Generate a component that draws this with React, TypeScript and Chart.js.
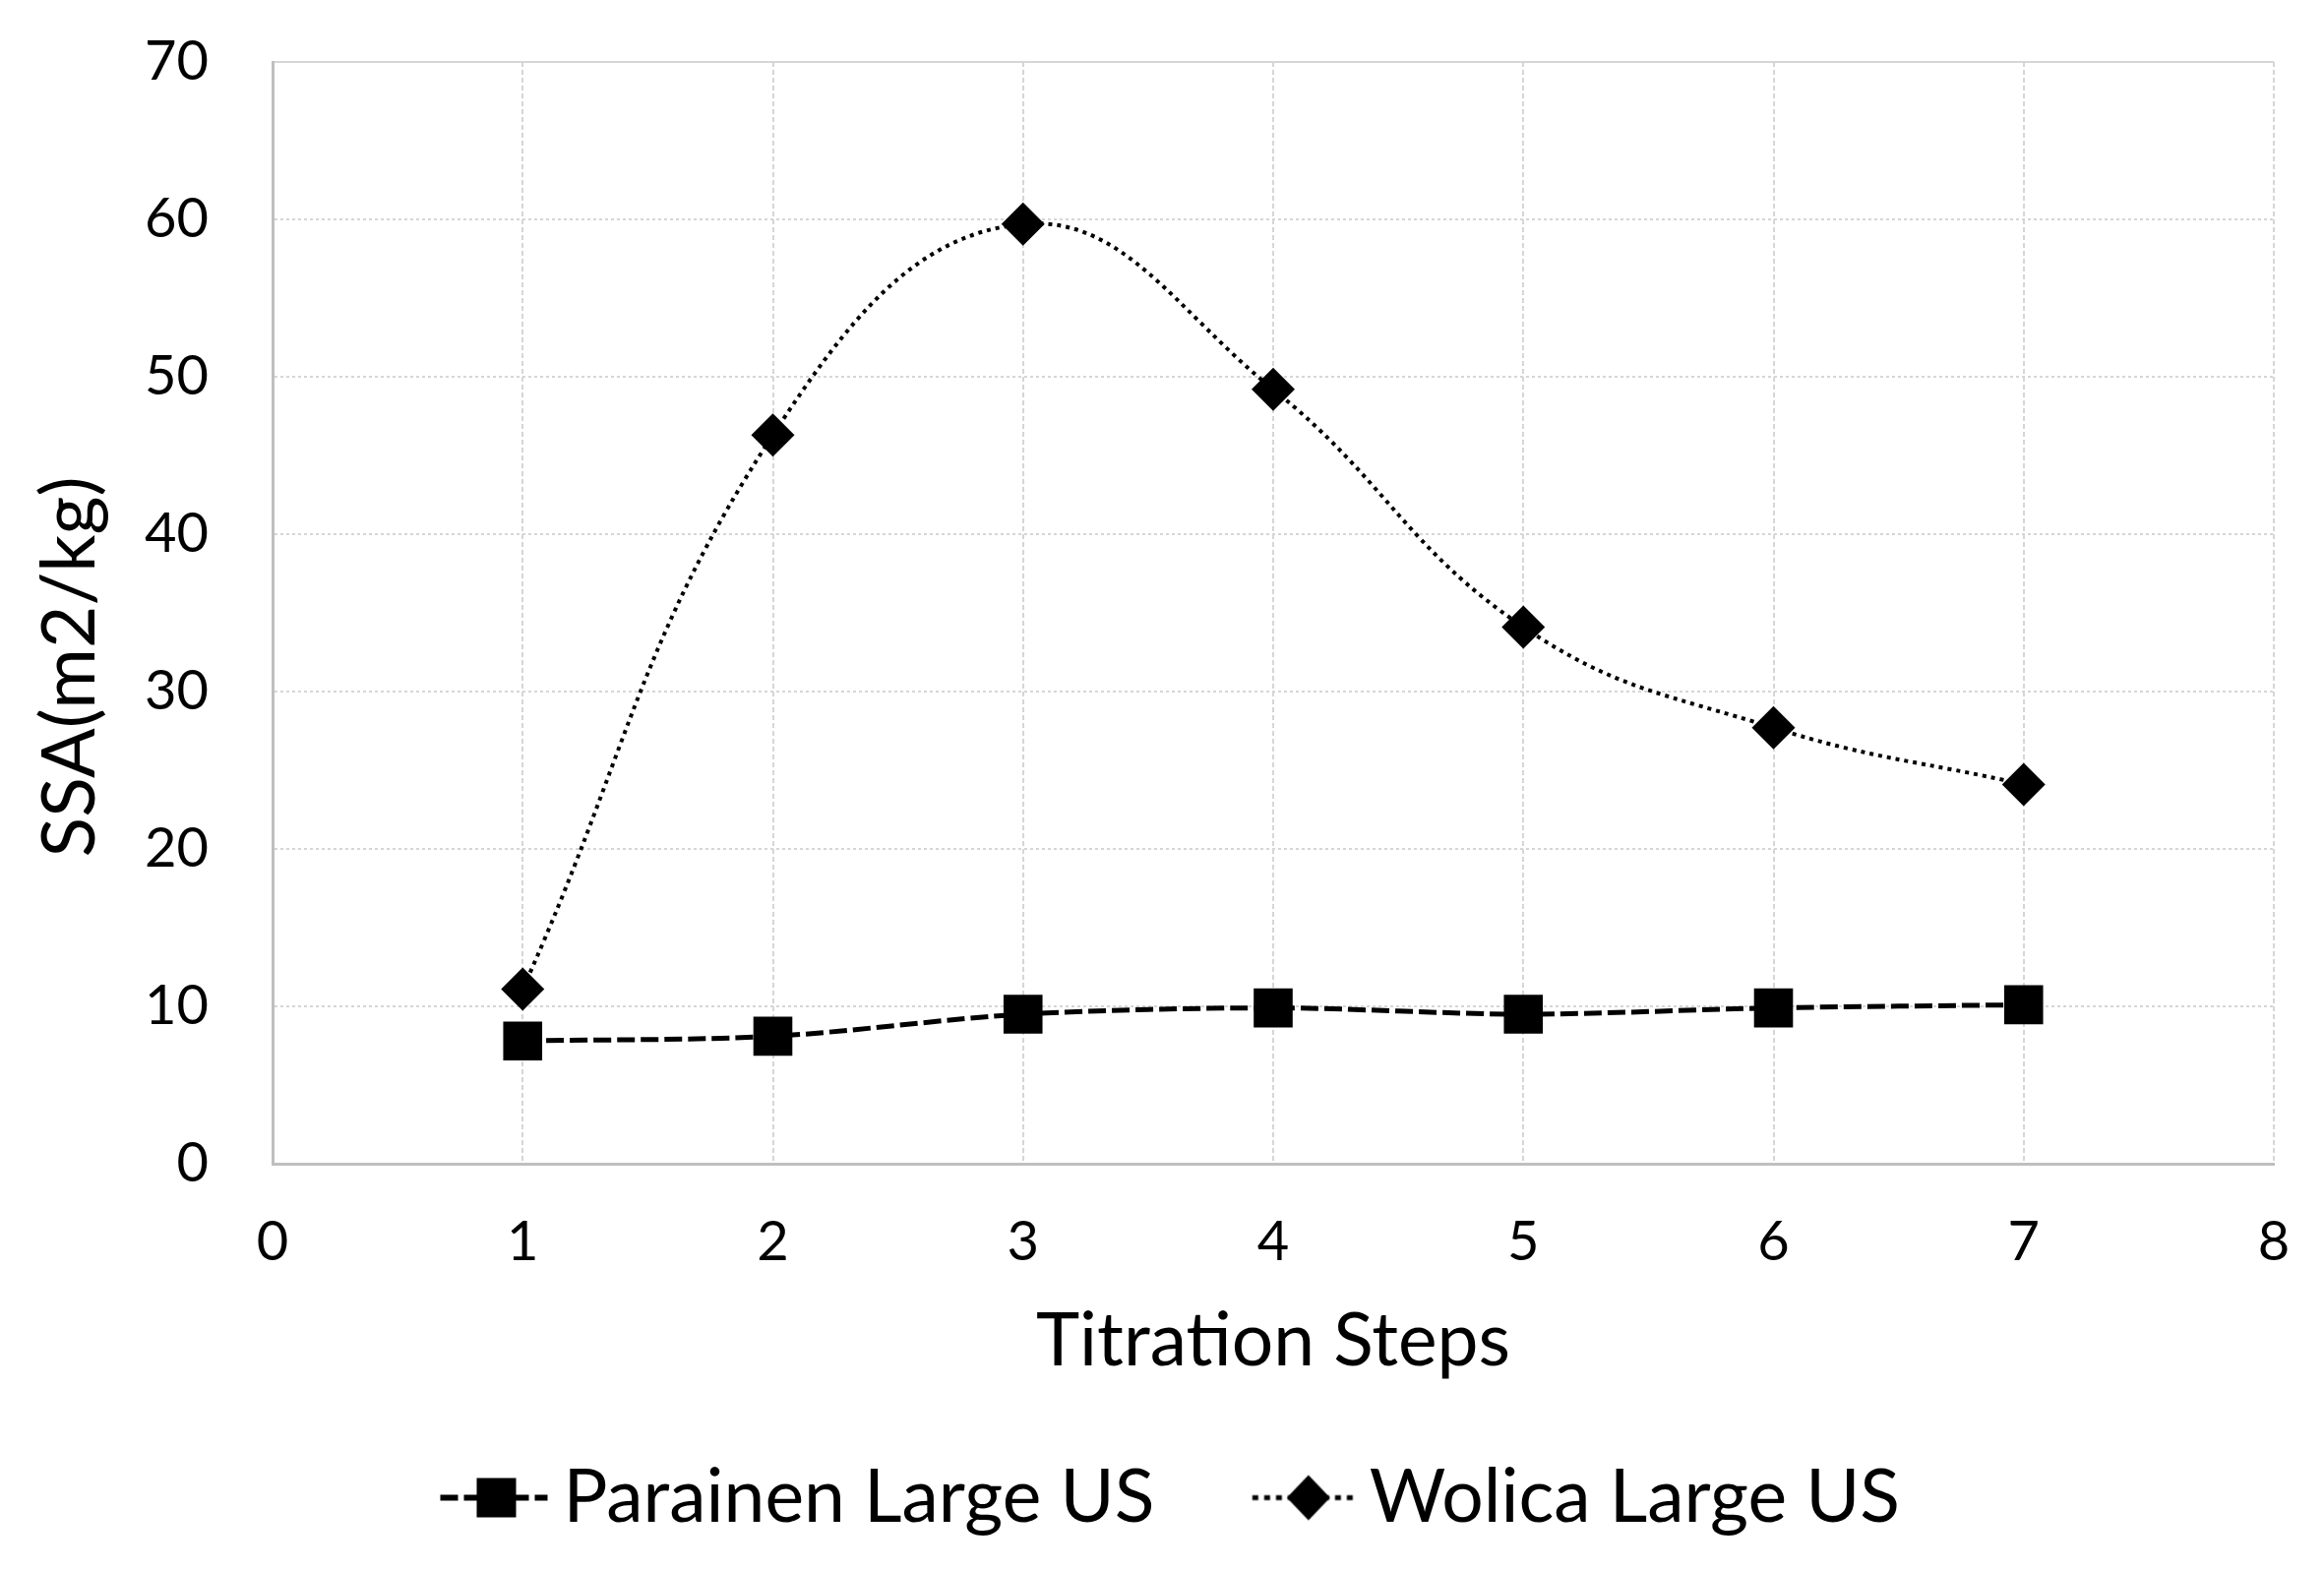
import React, { useEffect, useRef } from "react";
import { Chart, registerables } from "chart.js";

Chart.register(...registerables);

// ---- data ----
const titrationSteps = [1, 2, 3, 4, 5, 6, 7];
const parainenLargeUS = [7.8, 8.1, 9.5, 9.9, 9.5, 9.9, 10.1];
const wolicaLargeUS = [11.1, 46.3, 59.7, 49.2, 34.1, 27.7, 24.1];
const seriesNames = ["Parainen Large US", "Wolica Large US"];
const xAxisTitle = "Titration Steps";
const yAxisTitle = "SSA(m2/kg)";
const xRange = [0, 8];
const yRange = [0, 70];

const FONT = "Lato, 'Liberation Sans', sans-serif";

function makeLegendIcon(kind: "square" | "diamond"): HTMLCanvasElement {
  const c = document.createElement("canvas");
  c.width = 233;
  c.height = 60;
  const ctx = c.getContext("2d")!;
  const cy = 30;
  const end = 223.5;
  const start = kind === "square" ? 114.5 : 120.5;
  ctx.strokeStyle = "#000";
  if (kind === "square") {
    ctx.lineWidth = 6;
    ctx.setLineDash([18, 6]);
  } else {
    ctx.lineWidth = 5;
    ctx.setLineDash([6, 6]);
  }
  ctx.beginPath();
  ctx.moveTo(start, cy);
  ctx.lineTo(end, cy);
  ctx.stroke();
  ctx.setLineDash([]);
  ctx.fillStyle = "#000";
  const mid = start + 57;
  if (kind === "square") {
    ctx.fillRect(mid - 20, cy - 20, 40, 40);
  } else {
    ctx.beginPath();
    ctx.moveTo(mid, cy - 23);
    ctx.lineTo(mid + 22, cy);
    ctx.lineTo(mid, cy + 23);
    ctx.lineTo(mid - 22, cy);
    ctx.closePath();
    ctx.fill();
  }
  return c;
}

// Y-axis title drawn Excel-style (centred a little lower than the plot middle)
const yTitlePlugin = {
  id: "yTitleExcel",
  afterDraw(chart: any) {
    const { ctx, chartArea } = chart;
    ctx.save();
    ctx.font = `75px ${FONT}`;
    ctx.fillStyle = "#000";
    ctx.textAlign = "center";
    ctx.textBaseline = "middle";
    ctx.translate(72, (chartArea.top + chartArea.bottom) / 2 + 55);
    ctx.rotate(-Math.PI / 2);
    ctx.fillText(yAxisTitle, 0, 0);
    ctx.restore();
  },
};

export default function App() {
  const canvasRef = useRef<HTMLCanvasElement | null>(null);

  useEffect(() => {
    const canvas = canvasRef.current;
    if (!canvas) return;
    const icons = [makeLegendIcon("square"), makeLegendIcon("diamond")];

    const chart = new Chart(canvas, {
      type: "line",
      data: {
        datasets: [
          {
            label: seriesNames[0],
            data: titrationSteps.map((x, i) => ({ x, y: parainenLargeUS[i] })),
            borderColor: "#000",
            backgroundColor: "#000",
            borderWidth: 5,
            borderDash: [18, 6],
            pointStyle: "rect",
            pointRadius: 28,
            pointHoverRadius: 28,
            pointBorderWidth: 0,
            tension: 0.3,
            fill: false,
          },
          {
            label: seriesNames[1],
            data: titrationSteps.map((x, i) => ({ x, y: wolicaLargeUS[i] })),
            borderColor: "#000",
            backgroundColor: "#000",
            borderWidth: 4,
            borderDash: [4, 5],
            pointStyle: "rectRot",
            pointRadius: 22,
            pointHoverRadius: 22,
            pointBorderWidth: 0,
            tension: 0.42,
            fill: false,
          },
        ],
      },
      plugins: [yTitlePlugin],
      options: {
        animation: false,
        responsive: true,
        maintainAspectRatio: false,
        devicePixelRatio: 1,
        layout: { padding: { left: -16, right: 51, top: 63, bottom: 26 } },
        plugins: {
          tooltip: { enabled: false },
          legend: {
            position: "bottom",
            labels: {
              color: "#000",
              font: { family: FONT, size: 75 },
              usePointStyle: true,
              pointStyleWidth: 171,
              padding: 10,
              generateLabels: (ch: any) => {
                const items = Chart.defaults.plugins.legend.labels.generateLabels(ch);
                return items.map((it: any, i: number) => ({ ...it, pointStyle: icons[i] }));
              },
            },
          },
        },
        scales: {
          x: {
            type: "linear",
            min: xRange[0],
            max: xRange[1],
            afterFit: (s: any) => {
              s.height = 292;
            },
            ticks: {
              stepSize: 1,
              color: "#000",
              font: { family: FONT, size: 56 },
              padding: 0,
            },
            grid: {
              color: "#d6d6d6",
              lineWidth: 2,
              drawTicks: true,
              tickLength: 46,
              tickWidth: 0,
              tickColor: "rgba(0,0,0,0)",
            },
            border: { display: true, color: "#bfbfbf", width: 3, dash: [5, 3] },
            title: {
              display: true,
              text: xAxisTitle,
              color: "#000",
              font: { family: FONT, size: 75 },
              padding: { top: 10, bottom: 66 },
            },
          },
          y: {
            type: "linear",
            min: yRange[0],
            max: yRange[1],
            afterFit: (s: any) => {
              s.width = 293;
            },
            ticks: {
              stepSize: 10,
              color: "#000",
              font: { family: FONT, size: 56 },
              padding: 0,
            },
            grid: {
              color: "#d6d6d6",
              lineWidth: 2,
              drawTicks: true,
              tickLength: 65,
              tickWidth: 0,
              tickColor: "rgba(0,0,0,0)",
            },
            border: {
              display: true,
              color: "#bfbfbf",
              width: 3,
              dash: (ctx: any) => (ctx.tick && ctx.tick.value === yRange[1] ? [] : [3, 3]),
            },
            title: { display: false },
          },
        },
      },
    } as any);

    return () => chart.destroy();
  }, []);

  return (
    <div
      style={{
        position: "fixed",
        left: 0,
        top: 0,
        width: 2362,
        height: 1596,
        background: "#fff",
      }}
    >
      <canvas ref={canvasRef} />
    </div>
  );
}
